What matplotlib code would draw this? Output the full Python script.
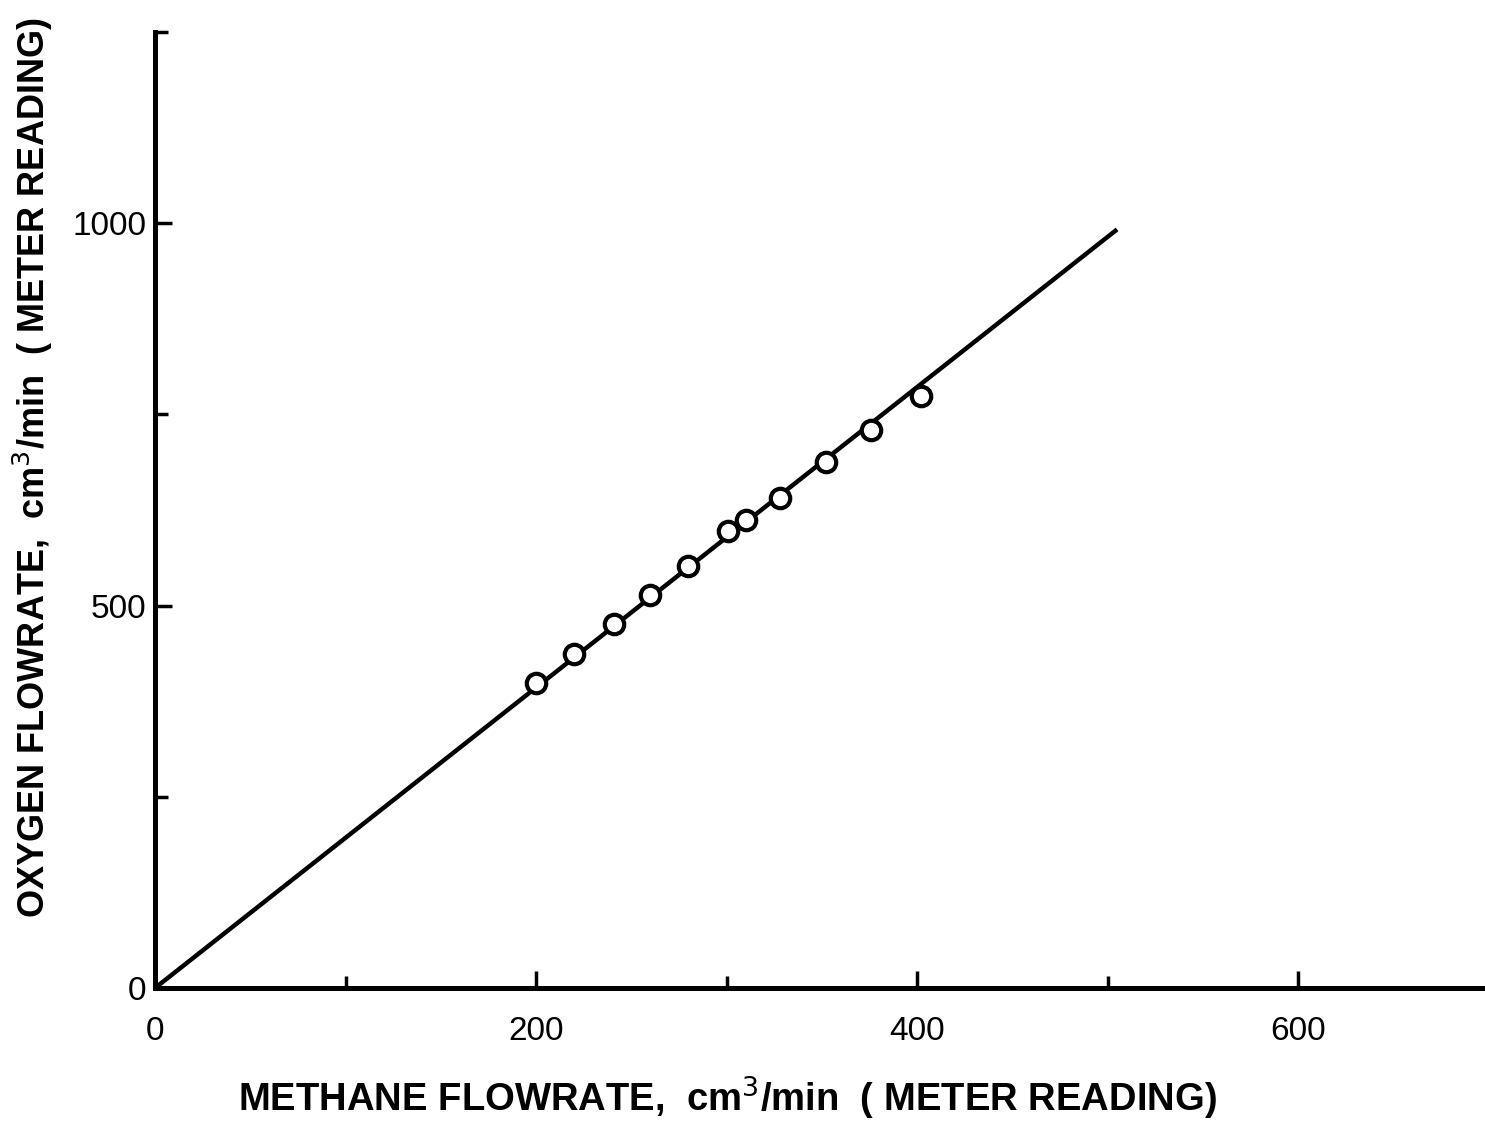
import matplotlib
matplotlib.use('Agg')
import matplotlib.pyplot as plt

# Measured points (meter readings)
methane = [200, 220, 241, 260, 280, 301, 310, 328, 352, 376, 402]
oxygen = [399, 437, 476, 514, 552, 598, 612, 641, 688, 730, 774]

# Fitted calibration line through the origin
fit_x = [0, 505]
fit_y = [0, 992]

x_major = [0, 200, 400, 600]
x_minor = [100, 300, 500]
y_major = [0, 500, 1000]
y_minor = [250, 750, 1250]

plt.rcParams['font.family'] = ['Liberation Sans', 'DejaVu Sans']

fig = plt.figure(figsize=(14.85, 11.22), dpi=100)
ax = fig.add_axes([0.1044, 0.1194, 0.898, 0.852])

ax.plot(fit_x, fit_y, color='black', lw=3.2, solid_capstyle='butt', zorder=2)
ax.plot(methane, oxygen, 'o', ms=14, mfc='white', mec='black', mew=3, zorder=3)

ax.set_xlim(0, 700)
ax.set_ylim(0, 1250)

for side in ['top', 'right']:
    ax.spines[side].set_visible(False)
for side in ['left', 'bottom']:
    ax.spines[side].set_linewidth(3.6)

ax.set_xticks(x_major)
ax.set_xticks(x_minor, minor=True)
ax.set_yticks(y_major)
ax.set_yticks(y_minor, minor=True)
ax.set_xticklabels([str(v) for v in x_major])
ax.set_yticklabels([str(v) for v in y_major])

ax.tick_params(which='both', direction='in', width=2.5, labelsize=24)
ax.tick_params(which='major', length=12)
ax.tick_params(which='minor', length=9)
ax.tick_params(axis='x', pad=20)
ax.tick_params(axis='y', pad=6)

fig.text(0.49, 0.0214, 'METHANE FLOWRATE,  cm$^3$/min  ( METER READING)',
         ha='center', va='center', fontsize=27.5, fontweight='bold')
fig.text(0.022, 0.583, 'OXYGEN FLOWRATE,  cm$^3$/min  ( METER READING)',
         ha='center', va='center', rotation=90, fontsize=26, fontweight='bold')

fig.savefig('out.png', dpi=100)
